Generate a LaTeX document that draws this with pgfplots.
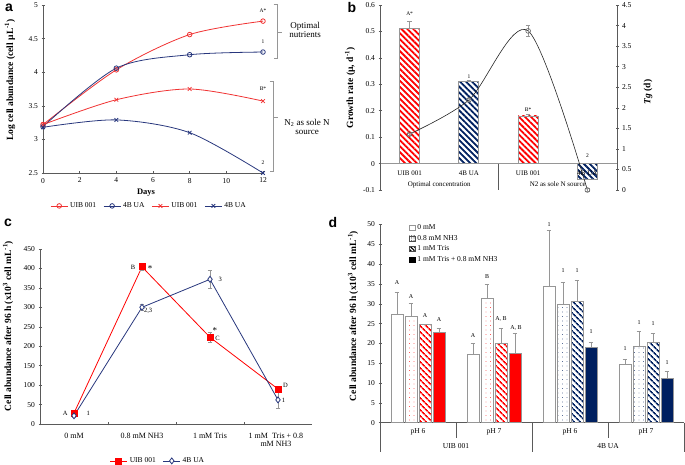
\documentclass[border=0pt]{standalone}
\usepackage{pgfplots}
\pgfplotsset{compat=1.18}
\usetikzlibrary{patterns.meta}
\usepackage{fontspec}
\setmainfont{Liberation Serif}
\newfontfamily\lettersf{Liberation Sans}
\definecolor{lred}{RGB}{240,50,50}
\definecolor{lblue}{RGB}{40,55,125}
\definecolor{bred}{RGB}{255,0,0}
\definecolor{bnavy}{RGB}{0,32,96}
\definecolor{bgray}{RGB}{150,150,150}
\definecolor{axgray}{RGB}{90,90,90}
\newcommand\fs[1]{\fontsize{#1}{#1}\selectfont}
\pgfplotsset{
  noarrows/.style={axis line style={-},
    every outer x axis line/.append style={-},
    every outer y axis line/.append style={-},
    every inner x axis line/.append style={-},
    every inner y axis line/.append style={-}},
  every axis/.append style={scale only axis, anchor=south west,
    /pgf/number format/assume math mode=true,
    tick label style={font=\fs{7.5}},
    tick align=outside, major tick length=3pt,
    axis line style={axgray}, tick style={axgray, line width=0.5pt}},
  /pgfplots/error bars/ebar/.style={error bar style={bgray, line width=0.6pt},
    error mark options={rotate=90, bgray, mark size=2.3pt, line width=0.6pt}},
}
\begin{document}
\begin{tikzpicture}
\useasboundingbox (0,0) rectangle (685pt,465pt);

% ---------------- Panel a ----------------
\begin{axis}[at={(43pt,292pt)}, width=220pt, height=168pt,
  xmin=0, xmax=12, ymin=2.5, ymax=5,
  axis x line=bottom, axis y line=left, noarrows,
  xtick={0,2,4,6,8,10,12},
  ytick={2.5,3,3.5,4,4.5,5}, yticklabels={2.5,3,3.5,4,4.5,5},
  clip=false,
  legend columns=4,
  legend style={draw=none, fill=none, at={(0.482,-0.196)}, anchor=center,
    font=\fs{7.5}, /tikz/every even column/.append style={column sep=5pt}},
]
\addplot[smooth, lred, line width=0.8pt, mark=o, mark size=2.3pt, mark options={solid}]
  coordinates {(0,3.22) (4,4.035) (8,4.56) (12,4.76)};
\addlegendentry{UIB 001}
\addplot[smooth, lblue, line width=0.8pt, mark=o, mark size=2.3pt, mark options={solid}]
  coordinates {(0,3.19) (4,4.06) (8,4.26) (12,4.30)};
\addlegendentry{4B UA}
\addplot[smooth, lred, line width=0.8pt, mark=x, mark size=2.6pt, mark options={solid}]
  coordinates {(0,3.22) (4,3.59) (8,3.75) (12,3.57)};
\addlegendentry{UIB 001}
\addplot[smooth, lblue, line width=0.8pt, mark=x, mark size=2.6pt, mark options={solid}]
  coordinates {(0,3.18) (4,3.29) (8,3.10) (12,2.50)};
\addlegendentry{4B UA}
\node[font=\fs{5.5}] at (axis cs:12,4.92) {A*};
\node[font=\fs{5.5}] at (axis cs:12,4.46) {1};
\node[font=\fs{5.5}] at (axis cs:12,3.75) {B*};
\node[font=\fs{5.5}] at (axis cs:12,2.66) {2};
\end{axis}

% ---------------- Panel b ----------------
\begin{axis}[at={(380pt,275pt)}, width=237pt, height=185pt,
  xmin=-0.5, xmax=3.5, ymin=-0.1, ymax=0.6,
  axis x line=middle, axis y line=left, noarrows,
  x axis line style={bgray, line width=0.8pt},
  xtick=\empty,
  ytick={-0.1,0,0.1,0.2,0.3,0.4,0.5,0.6},
  yticklabels={-0.1,0,0.1,0.2,0.3,0.4,0.5,0.6},
  clip=false,
]
\addplot[ybar, bar width=20pt, bar shift=0pt, draw=bgray, line width=0.8pt,
  pattern color=bred, pattern={Lines[angle=-45,distance=4.2pt,line width=1.8pt]},
  error bars/.cd, y dir=plus, y explicit, ebar]
  coordinates {(0,0.51) +- (0,0.03)};
\addplot[ybar, bar width=20pt, bar shift=0pt, draw=bgray, line width=0.8pt,
  pattern color=bnavy, pattern={Lines[angle=-45,distance=4.2pt,line width=1.8pt]},
  error bars/.cd, y dir=plus, y explicit, ebar]
  coordinates {(1,0.31) +- (0,0.004)};
\addplot[ybar, bar width=20pt, bar shift=0pt, draw=bgray, line width=0.8pt,
  pattern color=bred, pattern={Lines[angle=-45,distance=4.2pt,line width=1.8pt]},
  error bars/.cd, y dir=plus, y explicit, ebar]
  coordinates {(2,0.18) +- (0,0.005)};
\addplot[ybar, bar width=20pt, bar shift=0pt, draw=bgray, line width=0.8pt,
  pattern color=bnavy, pattern={Lines[angle=-45,distance=4.2pt,line width=1.8pt]}]
  coordinates {(3,-0.06)};
\draw[axgray, line width=0.5pt] (axis cs:1.5,0) -- (axis cs:1.5,-0.1);
\node[font=\fs{7}, yshift=-9.5pt] at (axis cs:0,0) {UIB 001};
\node[font=\fs{7}, yshift=-9.5pt] at (axis cs:1,0) {4B UA};
\node[font=\fs{7}, yshift=-9.5pt] at (axis cs:2,0) {UIB 001};
\node[font=\fs{7}, yshift=-9.5pt] at (axis cs:3,0) {4B UA};
\node[font=\fs{7}, yshift=-21pt] at (axis cs:0.5,0) {Optimal concentration};
\node[font=\fs{7}, yshift=-21pt] at (axis cs:2.5,0) {N2 as sole N source};
\node[font=\fs{5.5}] at (axis cs:0,0.567) {A*};
\node[font=\fs{5.5}] at (axis cs:1,0.33) {1};
\node[font=\fs{5.5}] at (axis cs:2,0.203) {B*};
\node[font=\fs{5.5}] at (axis cs:3,0.03) {2};
\end{axis}
\begin{axis}[at={(380pt,275pt)}, width=237pt, height=185pt,
  xmin=-0.5, xmax=3.5, ymin=0, ymax=4.5,
  axis x line=none, axis y line=right, noarrows,
  ytick={0,0.5,1,1.5,2,2.5,3,3.5,4,4.5},
  yticklabels={0,0.5,1,1.5,2,2.5,3,3.5,4,4.5},
  clip=false,
]
\addplot[smooth, black!85, line width=0.6pt, mark=o, mark size=2.4pt,
  mark options={solid, black!60},
  error bars/.cd, y dir=both, y explicit, ebar]
  coordinates {(0,1.36) +- (0,0.03) (1,2.19) +- (0,0.03) (2,3.87) +- (0,0.14) (3,0) +- (0,0.03)};
\end{axis}

% ---------------- Panel c ----------------
\begin{axis}[at={(40pt,41pt)}, width=272pt, height=175pt,
  xmin=-0.5, xmax=3.5, ymin=0, ymax=450,
  axis x line=bottom, axis y line=left, noarrows,
  ytick={0,50,...,450},
  xtick={-0.5,0.5,1.5,2.5}, xticklabels={},
  clip=false,
  legend columns=2,
  legend style={draw=none, fill=none, at={(0.434,-0.211)}, anchor=center,
    font=\fs{7.5}, /tikz/every even column/.append style={column sep=5pt}},
]
\addplot[bred, line width=0.8pt, mark=square*, mark size=3pt, mark options={solid, fill=bred},
  error bars/.cd, y dir=both, y explicit, ebar]
  coordinates {(0,28) +- (0,3) (1,404) +- (0,8) (2,223) +- (0,13) (3,90) +- (0,4)};
\addlegendentry{UIB 001}
\addplot[lblue, line width=0.8pt, mark=diamond*, mark size=3pt, mark options={solid, fill=white},
  error bars/.cd, y dir=both, y explicit, ebar]
  coordinates {(0,21) +- (0,3) (1,300) +- (0,8) (2,372) +- (0,23) (3,62) +- (0,21)};
\addlegendentry{4B UA}
\node[font=\fs{8}, anchor=north, align=center, yshift=-6pt] at (axis cs:0,0) {0 mM};
\node[font=\fs{8}, anchor=north, align=center, yshift=-6pt] at (axis cs:1,0) {0.8 mM NH3};
\node[font=\fs{8}, anchor=north, align=center, yshift=-6pt] at (axis cs:2,0) {1 mM Tris};
\node[font=\fs{8}, anchor=north, align=center, yshift=-6pt] at (axis cs:2.97,0) {1 mM \ Tris + 0.8\\mM NH3};
\node[font=\fs{6.5}] at (axis cs:-0.13,28) {A};
\node[font=\fs{6.5}] at (axis cs:0.21,28) {1};
\node[font=\fs{6.5}] at (axis cs:0.87,404) {B};
\node[font=\fs{9}] at (axis cs:1.12,400) {*};
\node[font=\fs{6.5}] at (axis cs:1.09,290) {2,3};
\node[font=\fs{6.5}] at (axis cs:2.15,373) {3};
\node[font=\fs{9}] at (axis cs:2.07,240) {*};
\node[font=\fs{6.5}] at (axis cs:2.11,221) {C};
\node[font=\fs{6.5}] at (axis cs:3.11,100) {D};
\node[font=\fs{6.5}] at (axis cs:3.08,62) {1};
\end{axis}

% ---------------- Panel d ----------------
% bar offsets within a group: -21pt,-7pt,7pt,21pt = -0.2763,-0.0921,0.0921,0.2763 units
\begin{axis}[at={(380pt,42.3pt)}, width=304pt, height=198.2pt,
  xmin=-0.5, xmax=3.5, ymin=0, ymax=50,
  axis x line=bottom, axis y line=left, noarrows,
  ytick={0,5,...,50},
  xtick=\empty,
  clip=false,
  legend style={draw=none, fill=none, at={(0.085,1.02)}, anchor=north west,
    font=\fs{7.5}, cells={anchor=west}, row sep=0pt},
]
\addlegendimage{legend image code/.code={\draw[draw=bgray, fill=white, line width=0.5pt] (0pt,-2.6pt) rectangle (5.2pt,2.6pt);}}
\addlegendentry{0 mM}
\addlegendimage{legend image code/.code={\draw[draw=black!70, line width=0.5pt, pattern color=black, pattern={Dots[distance=1.7pt, radius=0.35pt]}] (0pt,-2.6pt) rectangle (5.2pt,2.6pt);}}
\addlegendentry{0.8 mM NH3}
\addlegendimage{legend image code/.code={\draw[draw=black!70, line width=0.5pt, pattern color=black, pattern={Lines[angle=-45,distance=2.6pt,line width=1.2pt]}] (0pt,-2.6pt) rectangle (5.2pt,2.6pt);}}
\addlegendentry{1 mM Tris}
\addlegendimage{legend image code/.code={\draw[draw=black, fill=black, line width=0.5pt] (0pt,-2.6pt) rectangle (5.2pt,2.6pt);}}
\addlegendentry{1 mM Tris + 0.8 mM NH3}
% UIB 001
\addplot[forget plot, ybar, bar width=12pt, bar shift=0pt, draw=bgray, line width=0.7pt, fill=white,
  error bars/.cd, y dir=plus, y explicit, ebar]
  coordinates {(-0.2763,27.3) +- (0,5.7) (0.7237,17.3) +- (0,2.7)};
\addplot[forget plot, ybar, bar width=12pt, bar shift=0pt, draw=bgray, line width=0.7pt,
  pattern color=bred, pattern={Dots[distance=4.5pt, radius=0.45pt]},
  error bars/.cd, y dir=plus, y explicit, ebar]
  coordinates {(-0.0921,26.9) +- (0,3.2) (0.9079,31.4) +- (0,3.5)};
\addplot[forget plot, ybar, bar width=12pt, bar shift=0pt, draw=bgray, line width=0.7pt,
  pattern color=bred, pattern={Lines[angle=-45,distance=4pt,line width=1.7pt]},
  error bars/.cd, y dir=plus, y explicit, ebar]
  coordinates {(0.0921,24.7) +- (0,0.1) (1.0921,20.0) +- (0,3.75)};
\addplot[forget plot, ybar, bar width=12pt, bar shift=0pt, draw=bgray, line width=0.7pt, fill=bred,
  error bars/.cd, y dir=plus, y explicit, ebar]
  coordinates {(0.2763,22.8) +- (0,0.9) (1.2763,17.5) +- (0,5.0)};
% 4B UA
\addplot[forget plot, ybar, bar width=12pt, bar shift=0pt, draw=bgray, line width=0.7pt, fill=white,
  error bars/.cd, y dir=plus, y explicit, ebar]
  coordinates {(1.7237,34.5) +- (0,14.1) (2.7237,14.6) +- (0,1.4)};
\addplot[forget plot, ybar, bar width=12pt, bar shift=0pt, draw=bgray, line width=0.7pt,
  pattern color=bnavy, pattern={Dots[distance=4.5pt, radius=0.45pt]},
  error bars/.cd, y dir=plus, y explicit, ebar]
  coordinates {(1.9079,29.9) +- (0,5.4) (2.9079,19.3) +- (0,3.7)};
\addplot[forget plot, ybar, bar width=12pt, bar shift=0pt, draw=bgray, line width=0.7pt,
  pattern color=bnavy, pattern={Lines[angle=-45,distance=4pt,line width=1.7pt]},
  error bars/.cd, y dir=plus, y explicit, ebar]
  coordinates {(2.0921,30.5) +- (0,5.4) (3.0921,20.2) +- (0,2.3)};
\addplot[forget plot, ybar, bar width=12pt, bar shift=0pt, draw=bgray, line width=0.7pt, fill=bnavy,
  error bars/.cd, y dir=plus, y explicit, ebar]
  coordinates {(2.2763,19.0) +- (0,1.4) (3.2763,11.2) +- (0,1.7)};
% bar letters
\node[font=\fs{6}] at (axis cs:-0.2763,35.4) {A};
\node[font=\fs{6}] at (axis cs:-0.0921,31.9) {A};
\node[font=\fs{6}] at (axis cs:0.0921,27.1) {A};
\node[font=\fs{6}] at (axis cs:0.2763,26.0) {A};
\node[font=\fs{6}] at (axis cs:0.7237,22.0) {A};
\node[font=\fs{6}] at (axis cs:0.9079,36.9) {B};
\node[font=\fs{6}] at (axis cs:1.0921,26.2) {A, B};
\node[font=\fs{6}] at (axis cs:1.29,23.9) {A, B};
\node[font=\fs{6}] at (axis cs:1.7237,49.9) {1};
\node[font=\fs{6}] at (axis cs:1.9079,38.5) {1};
\node[font=\fs{6}] at (axis cs:2.0921,38.5) {1};
\node[font=\fs{6}] at (axis cs:2.2763,23.0) {1};
\node[font=\fs{6}] at (axis cs:2.7237,18.8) {1};
\node[font=\fs{6}] at (axis cs:2.9079,25.3) {1};
\node[font=\fs{6}] at (axis cs:3.0921,25.1) {1};
\node[font=\fs{6}] at (axis cs:3.2763,15.2) {1};
% category axis
\draw[axgray, line width=0.5pt] (axis cs:-0.5,0) -- ++(0pt,-29.5pt);
\draw[axgray, line width=0.5pt] (axis cs:0.5,0) -- ++(0pt,-15pt);
\draw[axgray, line width=0.5pt] (axis cs:1.5,0) -- ++(0pt,-29.5pt);
\draw[axgray, line width=0.5pt] (axis cs:2.5,0) -- ++(0pt,-15pt);
\draw[axgray, line width=0.5pt] (axis cs:3.5,0) -- ++(0pt,-29.5pt);
\node[font=\fs{7.5}, yshift=-9.5pt] at (axis cs:0,0) {pH 6};
\node[font=\fs{7.5}, yshift=-9.5pt] at (axis cs:1,0) {pH 7};
\node[font=\fs{7.5}, yshift=-9.5pt] at (axis cs:2,0) {pH 6};
\node[font=\fs{7.5}, yshift=-9.5pt] at (axis cs:3,0) {pH 7};
\node[font=\fs{7.5}, yshift=-23.5pt] at (axis cs:0.5,0) {UIB 001};
\node[font=\fs{7.5}, yshift=-23.5pt] at (axis cs:2.5,0) {4B UA};
\end{axis}

% ---------------- free text (pixel coordinates, y downward) ----------------
\begin{scope}[shift={(0,465pt)}, x=1pt, y=-1pt]
  % panel letters
  \node[font=\lettersf\bfseries\fs{14}] at (9,8) {a};
  \node[font=\lettersf\bfseries\fs{14}] at (352,8) {b};
  \node[font=\lettersf\bfseries\fs{14}] at (8,223) {c};
  \node[font=\lettersf\bfseries\fs{14}] at (333,223) {d};
  % axis titles
  \node[font=\bfseries\fs{9.5}, rotate=90] at (10,80) {Log cell abundance (cell µL\textsuperscript{-1})};
  \node[font=\bfseries\fs{8.5}] at (146,193) {Days};
  \node[font=\bfseries\fs{9.5}, rotate=90] at (350,88) {Growth rate (µ, d\textsuperscript{-1})};
  \node[font=\bfseries\fs{9.5}, rotate=90] at (648,92) {\textit{Tg} (d)};
  \node[font=\bfseries\fs{9.5}, rotate=90] at (8,326) {Cell abundance after 96 h (x10\textsuperscript{3} cell mL\textsuperscript{-1})};
  \node[font=\bfseries\fs{9.5}, rotate=90] at (353,316) {Cell abundance after 96 h (x10\textsuperscript{3} cell mL\textsuperscript{-1})};
  % braces in panel a
  \draw[bgray, line width=0.6pt] (273.5,4.7) -- (277,4.7) -- (277,58) -- (273.5,58);
  \draw[bgray, line width=0.6pt] (277,32) -- (282,32);
  \node[font=\fs{9}, align=center] at (305,30) {Optimal\\nutrients};
  \draw[bgray, line width=0.6pt] (269.5,81) -- (273,81) -- (273,171) -- (269.5,171);
  \draw[bgray, line width=0.6pt] (273,117) -- (278,117);
  \node[font=\fs{9}, align=center] at (307,126.5) {N\textsubscript{2} as sole N\\source};
\end{scope}
\end{tikzpicture}
\end{document}
